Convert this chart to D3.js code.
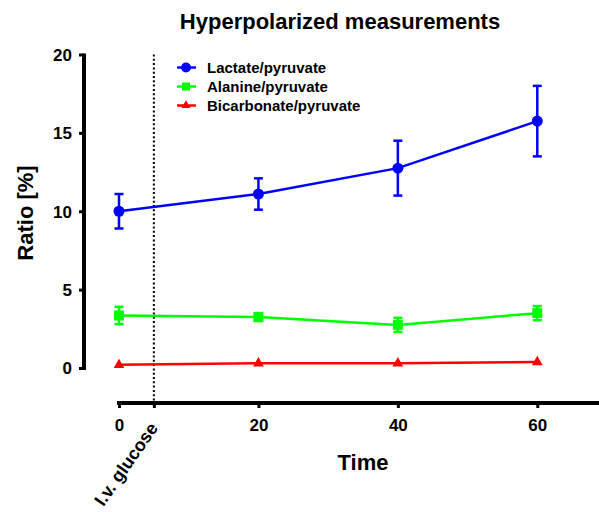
<!DOCTYPE html>
<html><head><meta charset="utf-8">
<script src="https://cdn.jsdelivr.net/npm/d3@7"></script>
<style>body{margin:0;background:#fff;} text{font-family:Arial,"Liberation Sans",sans-serif;font-weight:bold;}</style>
</head><body>
<svg id="c" width="599" height="512"></svg>
<script>
const times = [0, 20, 40, 60];
const lactate = [10.0, 11.1, 12.75, 15.75];
const lactateErr = [1.1, 1.0, 1.75, 2.25];
const alanine = [3.35, 3.25, 2.75, 3.5];
const alanineErr = [0.55, 0.25, 0.45, 0.45];
const bicarb = [0.2, 0.3, 0.3, 0.38];
const bicarbErr = [0, 0, 0, 0];
const yTicks = [0, 5, 10, 15, 20];
const xTicks = [0, 20, 40, 60];
const glucoseTime = 5;
const seriesNames = ["Lactate/pyruvate", "Alanine/pyruvate", "Bicarbonate/pyruvate"];
const seriesColors = ["#0000ff", "#00ff00", "#ff0000"];

const svg = d3.select("#c");
const x = d3.scaleLinear().domain([0, 70]).range([119, 607]);
const y = d3.scaleLinear().domain([0, 20]).range([368, 54.5]);

// title
svg.append("text").attr("x", 340).attr("y", 29).attr("text-anchor", "middle")
  .style("font-size", "22px").text("Hyperpolarized measurements");

// y axis
const ya = svg.append("g").attr("transform", "translate(84,0)")
  .call(d3.axisLeft(y).tickValues(yTicks).tickSize(5).tickPadding(7));
ya.select(".domain").attr("d", `M0,${y(20)-1}V${y(0)+2}`).attr("stroke", "#000").attr("stroke-width", 4);
ya.selectAll(".tick line").attr("stroke-width", 3);
ya.selectAll(".tick text").style("font-size", "17px").attr("font-family", null).attr("dy", "0.35em");

// x axis
const xa = svg.append("g").attr("transform", "translate(0,403)")
  .call(d3.axisBottom(x).tickValues(xTicks.concat([glucoseTime])).tickSize(5).tickPadding(11).tickFormat(d => d === glucoseTime ? "" : d));
xa.select(".domain").attr("d", `M${x(0)-2},0H599`).attr("stroke", "#000").attr("stroke-width", 4);
xa.selectAll(".tick line").attr("stroke-width", 3);
xa.selectAll(".tick text").style("font-size", "17px").attr("font-family", null);

// labels
svg.append("text").attr("transform", "translate(33,213) rotate(-90)").attr("text-anchor", "middle")
  .style("font-size", "22px").text("Ratio [%]");
svg.append("text").attr("x", 363).attr("y", 470).attr("text-anchor", "middle")
  .style("font-size", "22px").text("Time");
svg.append("text").attr("transform", `translate(${x(glucoseTime)+5},428) rotate(-55)`).attr("text-anchor", "end")
  .style("font-size", "18px").text("I.v. glucose");

// dotted glucose line
svg.append("line").attr("x1", x(glucoseTime)).attr("x2", x(glucoseTime)).attr("y1", y(20)).attr("y2", 401)
  .attr("stroke", "#000").attr("stroke-width", 2).attr("stroke-dasharray", "2,2.3");

const data = [
  {vals: lactate, err: lactateErr, shape: "circle"},
  {vals: alanine, err: alanineErr, shape: "square"},
  {vals: bicarb, err: bicarbErr, shape: "triangle"}
];
const line = d3.line().x((d, i) => x(times[i])).y(d => y(d));

function marker(g, shape, cx, cy, color) {
  if (shape === "circle") g.append("circle").attr("cx", cx).attr("cy", cy).attr("r", 5.5).attr("fill", color);
  else if (shape === "square") g.append("rect").attr("x", cx - 5).attr("y", cy - 5).attr("width", 10).attr("height", 10).attr("fill", color);
  else g.append("path").attr("d", d3.symbol(d3.symbolTriangle, 50)()).attr("transform", `translate(${cx},${cy})`).attr("fill", color);
}

data.forEach((s, k) => {
  const col = seriesColors[k];
  const g = svg.append("g");
  g.append("path").attr("d", line(s.vals)).attr("fill", "none").attr("stroke", col).attr("stroke-width", 2.5);
  s.vals.forEach((v, i) => {
    const cx = x(times[i]);
    if (s.err[i] > 0) {
      const y1 = y(v + s.err[i]), y2 = y(v - s.err[i]);
      g.append("line").attr("x1", cx).attr("x2", cx).attr("y1", y1).attr("y2", y2).attr("stroke", col).attr("stroke-width", 2.5);
      [y1, y2].forEach(yy => g.append("line").attr("x1", cx - 4.5).attr("x2", cx + 4.5).attr("y1", yy).attr("y2", yy).attr("stroke", col).attr("stroke-width", 2.5));
    }
    marker(g, s.shape, cx, y(v), col);
  });
});

// legend
seriesNames.forEach((n, k) => {
  const ly = 67.5 + k * 19;
  const col = seriesColors[k];
  const g = svg.append("g");
  g.append("line").attr("x1", 177).attr("x2", 196).attr("y1", ly).attr("y2", ly).attr("stroke", col).attr("stroke-width", 2.5);
  if (k === 0) g.append("circle").attr("cx", 186).attr("cy", ly).attr("r", 5).attr("fill", col);
  else if (k === 1) g.append("rect").attr("x", 182).attr("y", ly - 4).attr("width", 8).attr("height", 8).attr("fill", col);
  else g.append("path").attr("d", d3.symbol(d3.symbolTriangle, 35)()).attr("transform", `translate(186,${ly})`).attr("fill", col);
  g.append("text").attr("x", 207).attr("y", ly + 5.5).style("font-size", "15px").text(n);
});
</script>
</body></html>
